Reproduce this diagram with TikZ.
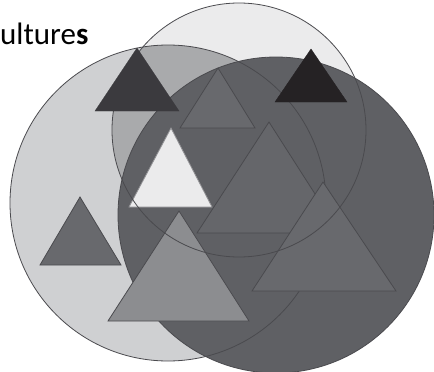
\documentclass[tikz,border=0pt]{standalone}
\usepackage{fontspec}
\setmainfont{Carlito}
\usepackage{xcolor}
\definecolor{leftgray}{RGB}{207,208,210}
\definecolor{topgray}{RGB}{235,235,236}
\definecolor{midgray}{RGB}{169,170,172}
\definecolor{darkgray}{RGB}{95,96,100}
\definecolor{edgegray}{RGB}{74,74,78}
\definecolor{trigray}{RGB}{104,105,109}
\definecolor{paletri}{RGB}{140,141,144}
\definecolor{inkgray}{RGB}{59,58,62}
\definecolor{blacktri}{RGB}{37,34,36}
\tikzset{
  rim/.style={draw=edgegray, line width=0.8pt},
  tri/.style={rim, line join=miter}
}
% triangle by apex (x,y), base y, base ends
\newcommand{\tri}[6]{\filldraw[#1] (#2,#3) -- (#5,#4) -- (#6,#4) -- cycle;}

\begin{document}
\begin{tikzpicture}[x=1pt, y=-1pt]
  \useasboundingbox (0,0) rectangle (434,372);
  % circles
  \fill[leftgray] (168,203) circle (158);
  \fill[topgray] (239,130) circle (127);
  \begin{scope}
    \clip (168,203) circle (158);
    \fill[midgray] (239,130) circle (127);
  \end{scope}
  \fill[darkgray] (276,215) circle (158);
  \draw[rim] (276,215) circle (158);
  \draw[rim] (168,203) circle (158);
  % triangles
  \tri{tri, fill=trigray}{218}{68}{128}{180}{255}
  \tri{tri, fill=trigray!97!black}{269}{122}{233}{197}{340}
  \tri{tri, fill=trigray}{323}{182}{291}{252}{396}
  \tri{tri, fill=trigray}{80}{197}{265}{40}{121}
  \tri{tri, fill=paletri}{179}{211}{321}{108}{249}
  \tri{tri, draw=edgegray!60, fill=topgray}{171}{128}{207}{129}{212}
  \draw[rim] (239,130) circle (127);
  \tri{draw=inkgray, fill=inkgray}{137}{48}{111}{95}{179}
  \tri{draw=blacktri, fill=blacktri}{311}{49}{102}{275}{347}
  % title, cut at the left edge
  \node[anchor=base west, inner sep=0pt, font=\fontsize{31}{31}\selectfont] (title) at (0,45) {ulture\textbf{s}};
\end{tikzpicture}
\end{document}
